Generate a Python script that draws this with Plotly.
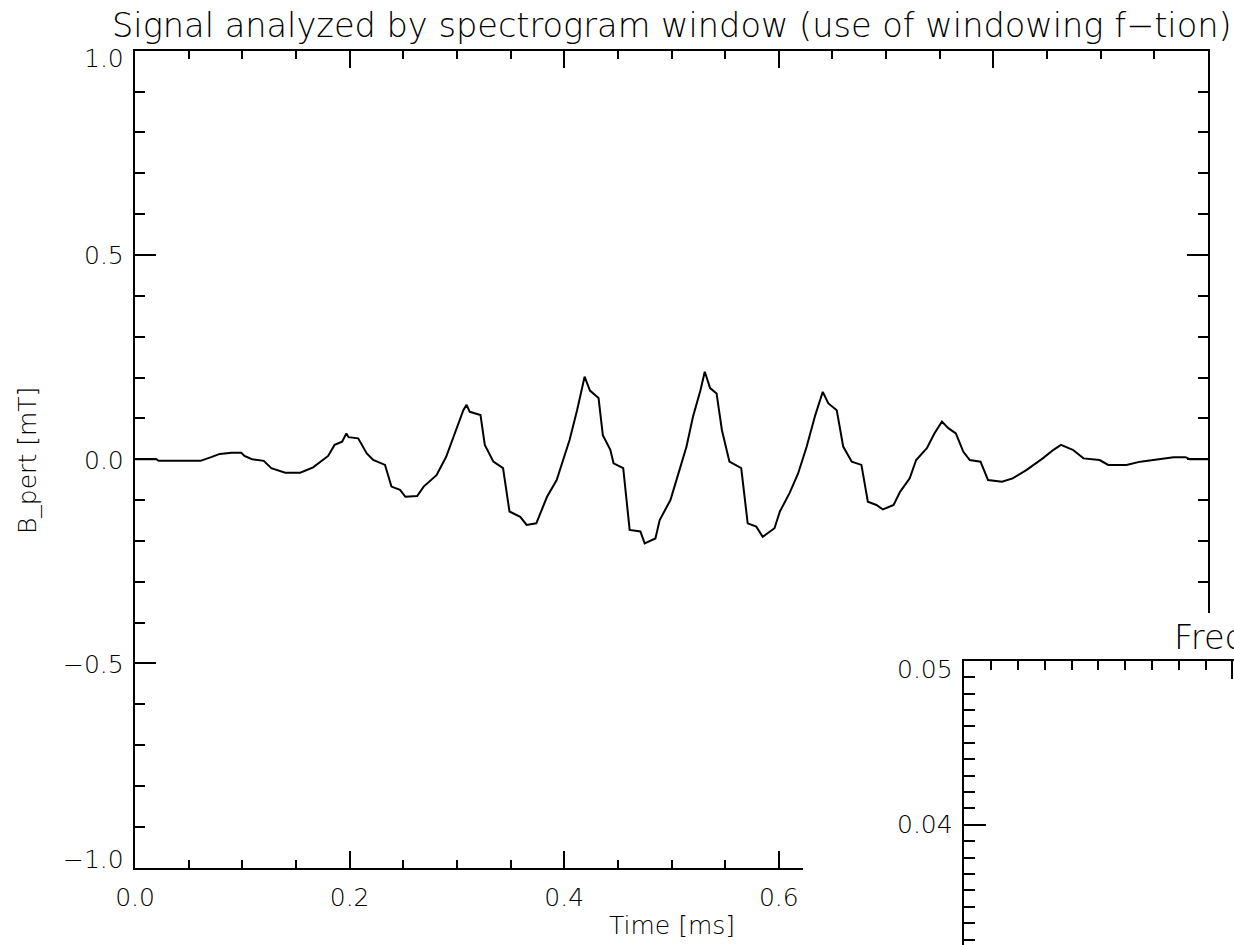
import plotly.graph_objects as go

# ---------------- data ----------------
time_ms = [0.000, 0.020, 0.022, 0.061, 0.071, 0.079, 0.090, 0.099, 0.102, 0.109,
           0.120, 0.127, 0.140, 0.154, 0.166, 0.180, 0.186, 0.193, 0.197, 0.199,
           0.208, 0.216, 0.222, 0.233, 0.239, 0.247, 0.252, 0.263, 0.269, 0.281,
           0.290, 0.300, 0.306, 0.309, 0.312, 0.322, 0.326, 0.334, 0.343, 0.349,
           0.359, 0.365, 0.374, 0.384, 0.393, 0.399, 0.405, 0.412, 0.419, 0.424,
           0.432, 0.436, 0.443, 0.446, 0.455, 0.461, 0.471, 0.475, 0.485, 0.489,
           0.499, 0.506, 0.514, 0.520, 0.527, 0.531, 0.536, 0.542, 0.547, 0.554,
           0.565, 0.571, 0.579, 0.585, 0.596, 0.601, 0.610, 0.618, 0.626, 0.634,
           0.641, 0.646, 0.654, 0.660, 0.668, 0.677, 0.683, 0.691, 0.697, 0.707,
           0.713, 0.722, 0.728, 0.738, 0.745, 0.752, 0.758, 0.765, 0.772, 0.778,
           0.788, 0.795, 0.808, 0.818, 0.831, 0.846, 0.856, 0.863, 0.874, 0.884,
           0.899, 0.907, 0.924, 0.937, 0.952, 0.968, 0.979, 0.983, 1.000]

b_pert = [0.000, 0.000, -0.004, -0.004, 0.005, 0.013, 0.016, 0.016, 0.008, 0.000,
          -0.004, -0.022, -0.033, -0.033, -0.020, 0.008, 0.035, 0.043, 0.063, 0.054,
          0.051, 0.014, -0.002, -0.014, -0.067, -0.075, -0.092, -0.090, -0.067, -0.039,
          0.006, 0.076, 0.120, 0.133, 0.116, 0.108, 0.035, -0.006, -0.022, -0.128,
          -0.141, -0.161, -0.157, -0.092, -0.051, -0.002, 0.047, 0.120, 0.202, 0.168,
          0.150, 0.059, 0.023, -0.010, -0.022, -0.173, -0.177, -0.206, -0.194, -0.149,
          -0.100, -0.039, 0.031, 0.104, 0.169, 0.214, 0.174, 0.161, 0.071, -0.006,
          -0.022, -0.157, -0.165, -0.190, -0.169, -0.128, -0.083, -0.035, 0.031, 0.108,
          0.165, 0.137, 0.120, 0.031, -0.006, -0.014, -0.104, -0.112, -0.123, -0.112,
          -0.080, -0.047, -0.002, 0.027, 0.063, 0.092, 0.076, 0.063, 0.018, -0.002,
          -0.006, -0.051, -0.055, -0.047, -0.026, 0.002, 0.023, 0.035, 0.023, 0.002,
          -0.002, -0.014, -0.014, -0.006, 0.000, 0.005, 0.005, 0.000, 0.000]

y_tick_vals = [1.0, 0.5, 0.0, -0.5, -1.0]
y_tick_labels = ["1.0", "0.5", "0.0", "\u22120.5", "\u22121.0"]

inset_y_tick_vals = [0.05, 0.04]
inset_y_tick_labels = ["0.05", "0.04"]

title_text = "Signal analyzed by spectrogram window (use of windowing f\u2212tion)"
x_title = "Time [ms]"
y_title = "B_pert [mT]"
inset_title = "Frequency"

# ---------------- layout geometry ----------------
W, H = 1234, 945
FONT = "DejaVu Sans"
WEIGHT = 200
BLACK = "black"


def fx(p):
    return p / W


def fy(p):
    return 1 - p / H


def font(size):
    return dict(family=FONT, size=size, color=BLACK, weight=WEIGHT)


fig = go.Figure()

fig.add_trace(go.Scatter(x=time_ms, y=b_pert, mode="lines",
                         line=dict(color=BLACK, width=2),
                         xaxis="x", yaxis="y", showlegend=False, hoverinfo="skip"))
# empty traces so the covering and inset subplots exist
fig.add_trace(go.Scatter(x=[None], y=[None], xaxis="x2", yaxis="y2", showlegend=False))
fig.add_trace(go.Scatter(x=[None], y=[None], xaxis="x3", yaxis="y3", showlegend=False))

common_line = dict(showline=True, linecolor=BLACK, linewidth=2, showgrid=False,
                   zeroline=False, ticks="inside", tickcolor=BLACK, tickwidth=1.5,
                   automargin=False)

fig.update_layout(
    template="none",
    width=W, height=H,
    margin=dict(l=0, r=0, t=0, b=0, pad=0, autoexpand=False),
    paper_bgcolor="white", plot_bgcolor="white",
    showlegend=False,
    xaxis=dict(domain=[fx(135), fx(1208)], range=[0, 1.0], anchor="y",
               tickmode="linear", tick0=0, dtick=0.2, tickformat=".1f",
               ticklen=17, mirror="ticks", ticklabelstandoff=6,
               minor=dict(dtick=0.05, ticklen=8, ticks="inside", tickcolor=BLACK,
                          tickwidth=1.5, showgrid=False),
               tickfont=font(25),
               **common_line),
    yaxis=dict(domain=[fy(867.7), fy(50.7)], range=[-1.0, 1.0], anchor="x",
               tickmode="linear", tick0=0, dtick=0.5, showticklabels=False,
               ticklen=21, mirror="ticks",
               minor=dict(dtick=0.1, ticklen=10, ticks="inside", tickcolor=BLACK,
                          tickwidth=1.5, showgrid=False),
               **common_line),
    # white covering panel (lower right)
    xaxis2=dict(domain=[fx(803), 1.0], anchor="y2", visible=False, range=[0, 1],
                automargin=False),
    yaxis2=dict(domain=[0.0, fy(613)], anchor="x2", visible=False, range=[0, 1],
                automargin=False),
    # inset axes
    xaxis3=dict(domain=[fx(964.3), 1.0], anchor="y3", side="top", range=[0, 10.06],
                tickmode="linear", tick0=0, dtick=10, ticklen=18, showticklabels=False,
                minor=dict(dtick=1, ticklen=9, ticks="inside", tickcolor=BLACK,
                           tickwidth=1.5, showgrid=False),
                **common_line),
    yaxis3=dict(domain=[0.0, fy(660.7)], anchor="x3", side="left",
                range=[0.03267, 0.05], tickmode="linear", tick0=0, dtick=0.01,
                ticklen=22, showticklabels=False,
                minor=dict(dtick=0.001, ticklen=11, ticks="inside", tickcolor=BLACK,
                           tickwidth=1.5, showgrid=False),
                **common_line),
)

annotations = []
# main title
annotations.append(dict(text=title_text, xref="x domain", yref="paper", x=0.5, y=fy(26),
                        xanchor="center", yanchor="middle", showarrow=False,
                        font=font(33.6)))
# axis titles
annotations.append(dict(text=x_title, xref="x domain", yref="paper", x=0.5, y=fy(925),
                        xanchor="center", yanchor="middle", showarrow=False,
                        font=font(25)))
annotations.append(dict(text=y_title, xref="paper", yref="paper", x=fx(27), y=fy(461),
                        xanchor="center", yanchor="middle", textangle=-90, showarrow=False,
                        font=font(25)))
# main y tick labels
for v, lab in zip(y_tick_vals, y_tick_labels):
    shift = -8 if v == max(y_tick_vals) else (8 if v == min(y_tick_vals) else -1)
    annotations.append(dict(text=lab, xref="paper", yref="y", x=fx(135), y=v,
                            xanchor="right", yanchor="middle", xshift=-9, yshift=shift,
                            showarrow=False, font=font(25)))
# inset y tick labels
for v, lab in zip(inset_y_tick_vals, inset_y_tick_labels):
    shift = -9 if v == max(inset_y_tick_vals) else 0
    annotations.append(dict(text=lab, xref="paper", yref="y3", x=fx(964.3), y=v,
                            xanchor="right", yanchor="middle", xshift=-9, yshift=shift,
                            showarrow=False, font=font(25)))
# inset title (cut off at the page edge, as in the original)
annotations.append(dict(text=inset_title, xref="paper", yref="paper", x=fx(1172), y=fy(637),
                        xanchor="left", yanchor="middle", showarrow=False,
                        font=font(33.6)))

fig.update_layout(annotations=annotations)

fig.write_html("out.html")
